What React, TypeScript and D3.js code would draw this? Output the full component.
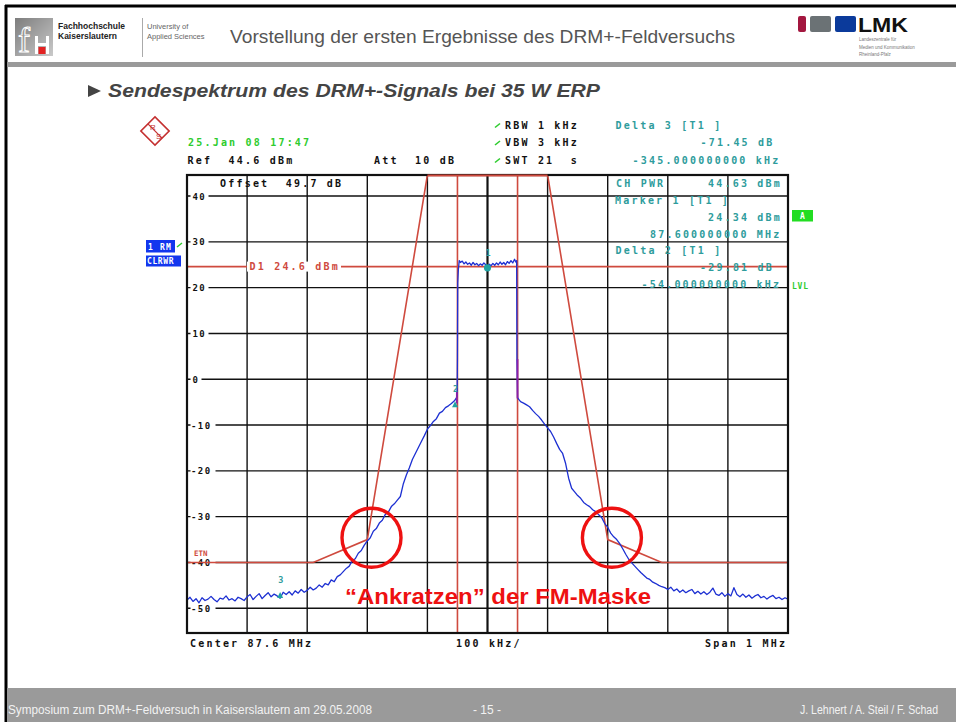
import React, { useEffect, useRef } from 'react';
import * as d3 from 'd3';

const W = 956;
const H = 722;

// level grid (dBm) and frequency divisions (kHz from centre)
const levelTicks = [40, 30, 20, 10, 0, -10, -20, -30, -40, -50];
const freqDivs = [-400, -300, -200, -100, 0, 100, 200, 300, 400];

// FM limit mask [kHz, dBm]
const maskPts: [number, number][] = [
  [-500, -40], [-290, -40], [-200, -35], [-100, 44.6],
  [100, 44.6], [200, -35], [290, -40], [500, -40],
];
const channelEdges = [-50, 50];
const displayLine = 24.6;

const skirtLow: [number, number][] = [
  [-500, -48.2], [-495, -47.6], [-490, -48.5], [-485, -47.9], [-480, -48.8], [-475, -47.7],
  [-470, -48.3], [-465, -48.0], [-460, -47.4], [-455, -48.1], [-450, -48.6], [-445, -47.8],
  [-440, -48.0], [-435, -47.3], [-430, -48.2], [-425, -47.9], [-420, -48.4], [-415, -47.6],
  [-410, -47.9], [-405, -48.3], [-400, -47.5], [-395, -47.0], [-390, -48.1], [-385, -47.4],
  [-380, -46.8], [-375, -47.9], [-370, -47.2], [-365, -46.6], [-360, -47.5], [-355, -46.9],
  [-350, -47.3], [-345, -47.8], [-340, -46.5], [-335, -47.0], [-330, -46.4], [-325, -47.1],
  [-320, -46.2], [-315, -46.7], [-310, -45.9], [-305, -46.5], [-300, -46.1], [-295, -45.4],
  [-290, -46.0], [-285, -45.6], [-280, -44.9], [-275, -45.4], [-270, -44.6], [-265, -44.9],
  [-260, -43.8], [-255, -44.2], [-250, -43.1], [-245, -42.7], [-240, -42.0], [-235, -41.3],
  [-230, -40.8], [-225, -39.6], [-220, -39.2], [-215, -38.0], [-210, -37.4], [-205, -36.2],
  [-200, -35.3], [-195, -34.6], [-190, -33.2], [-185, -32.6], [-180, -31.4], [-175, -30.8],
  [-170, -29.5], [-165, -29.0], [-160, -27.8], [-155, -27.2], [-150, -26.4], [-145, -25.6],
  [-140, -22.8], [-135, -20.9], [-130, -19.3], [-125, -17.5], [-120, -16.2], [-115, -14.9],
  [-110, -13.6], [-105, -12.3], [-100, -10.9], [-95, -10.1], [-90, -9.2], [-85, -8.6],
  [-80, -7.4], [-75, -7.0], [-70, -6.2], [-65, -5.8], [-60, -5.3], [-55, -4.7], [-51, -3.9],
];
const channel: [number, number][] = [
  [-50.5, -2.6], [-50, 4.8], [-49.5, 21.0], [-48.5, 23.9], [-47, 25.9], [-45, 25.5],
  [-42, 25.8], [-39, 25.2], [-36, 25.6], [-33, 25.1], [-30, 25.4], [-27, 24.9],
  [-24, 25.5], [-21, 25.0], [-18, 25.3], [-15, 24.8], [-12, 25.2], [-9, 24.9],
  [-6, 25.4], [-3, 25.0], [0, 24.6], [3, 25.1], [6, 24.8], [9, 25.3], [12, 24.9],
  [15, 25.4], [18, 25.0], [21, 25.6], [24, 25.1], [27, 25.5], [30, 25.0], [33, 25.7],
  [36, 25.3], [39, 25.9], [42, 25.4], [45, 26.2], [47, 25.6], [48.5, 25.9], [49, 4.4],
];
const skirtHigh: [number, number][] = [
  [50, -4.0], [52, -4.4], [55, -4.9], [60, -5.2], [65, -5.6], [70, -6.0], [75, -6.8],
  [80, -7.5], [85, -8.1], [90, -8.9], [95, -9.8], [100, -10.6], [105, -11.4], [110, -12.6],
  [115, -14.0], [120, -15.3], [125, -16.2], [130, -18.4], [135, -21.6], [140, -23.8],
  [145, -24.6], [150, -25.4], [155, -26.0], [160, -26.9], [165, -27.4], [170, -27.8],
  [175, -28.5], [180, -28.9], [185, -29.6], [190, -30.2], [195, -31.5], [200, -32.3],
  [205, -33.6], [210, -34.4], [215, -35.0], [220, -35.9], [225, -37.0], [230, -38.2],
  [235, -39.3], [240, -40.1], [245, -40.8], [250, -41.5], [255, -42.2], [260, -42.8],
  [265, -43.4], [270, -43.7], [275, -44.3], [280, -44.6], [285, -45.0], [290, -45.3],
  [295, -45.5], [300, -45.9], [305, -45.4], [310, -46.2], [315, -45.8], [320, -46.5],
  [325, -46.0], [330, -46.6], [335, -46.2], [340, -45.9], [345, -46.8], [350, -46.3],
  [355, -46.9], [360, -46.4], [365, -47.0], [370, -46.5], [375, -45.6], [380, -46.9],
  [385, -47.2], [390, -46.6], [395, -47.4], [400, -46.8], [405, -47.3], [410, -45.5],
  [415, -47.0], [420, -47.5], [425, -46.9], [430, -47.6], [435, -47.1], [440, -47.8],
  [445, -47.3], [450, -47.0], [455, -47.7], [460, -47.4], [465, -48.0], [470, -47.5],
  [475, -47.2], [480, -47.9], [485, -47.6], [490, -48.1], [495, -47.7], [500, -48.0],
];
// short purple pieces at the channel edges
const edgeSegs: [number, number][][] = [
  [[-51, -2.6], [-51, -5.3]],
  [[50, 4.4], [50, -4.2]],
];

const markers = [
  { n: '1', f: 0, db: 24.34 },
  { n: '2', f: -54, db: -5.47 },
  { n: '3', f: -345, db: -47.11 },
];

// circled spots on the mask (kHz, dBm)
const hotSpots: [number, number][] = [[-193, -34.6], [207, -34.6]];

export default function App() {
  const ref = useRef<SVGSVGElement>(null);

  useEffect(() => {
    const svg = d3.select(ref.current);
    svg.selectAll('*').remove();

    const MONO = '"DejaVu Sans Mono", monospace';
    const SANS = '"Liberation Sans", Arial, sans-serif';
    const NARROW = '"Liberation Sans Narrow", "Liberation Sans", Arial, sans-serif';
    const TEAL = '#2e9c9c';
    const GREEN = '#2ecc2e';
    const RED = '#cf4a3e';

    const x = d3.scaleLinear().domain([-500, 500]).range([187, 788]);
    const y = d3.scaleLinear().domain([-55.4, 44.6]).range([633, 175]);

    const mono = (txt: string, px: number, py: number, color: string, size = 10, ls = 2.2) =>
      svg
        .append('text')
        .attr('x', px)
        .attr('y', py)
        .attr('fill', color)
        .attr('font-family', MONO)
        .attr('font-size', size)
        .attr('font-weight', 'bold')
        .attr('letter-spacing', ls)
        .style('white-space', 'pre')
        .text(txt);

    svg.append('rect').attr('width', W).attr('height', H).attr('fill', '#fff');

    // ---- slide frame, header and footer
    svg.append('line').attr('x1', 5).attr('x2', W).attr('y1', 6).attr('y2', 6)
      .attr('stroke', '#000').attr('stroke-width', 3);
    svg.append('line').attr('x1', 6).attr('x2', 6).attr('y1', 5).attr('y2', H)
      .attr('stroke', '#000').attr('stroke-width', 3);
    svg.append('rect').attr('x', 7).attr('y', 62).attr('width', W).attr('height', 5).attr('fill', '#9a9a9a');
    svg.append('rect').attr('x', 7).attr('y', 688).attr('width', W).attr('height', 34).attr('fill', '#9a9a9a');

    const defs = svg.append('defs');
    const grad = defs.append('linearGradient').attr('id', 'fhGrad').attr('x1', 0).attr('x2', 1).attr('y1', 0).attr('y2', 1);
    grad.append('stop').attr('offset', 0).attr('stop-color', '#7d7d7d');
    grad.append('stop').attr('offset', 1).attr('stop-color', '#c9c9c9');
    defs.append('clipPath').attr('id', 'plotClip')
      .append('rect').attr('x', 187).attr('y', 175).attr('width', 601).attr('height', 458);

    // fh logo
    svg.append('rect').attr('x', 15).attr('y', 18).attr('width', 38).attr('height', 38).attr('fill', 'url(#fhGrad)');
    svg.append('text').attr('x', 18).attr('y', 52).attr('fill', 'none').attr('stroke', '#fff').attr('stroke-width', 1)
      .attr('font-family', '"Liberation Serif", serif').attr('font-size', 36).text('f');
    svg.append('rect').attr('x', 35).attr('y', 36).attr('width', 3).attr('height', 18).attr('fill', '#fff');
    svg.append('rect').attr('x', 46).attr('y', 36).attr('width', 3).attr('height', 18).attr('fill', '#fff');
    svg.append('rect').attr('x', 35).attr('y', 43).attr('width', 14).attr('height', 3).attr('fill', '#fff');
    svg.append('rect').attr('x', 38.5).attr('y', 47).attr('width', 7).attr('height', 7).attr('fill', '#e32222');
    svg.append('text').attr('x', 58).attr('y', 29).attr('font-family', SANS).attr('font-size', 8.5)
      .attr('font-weight', 'bold').attr('fill', '#222').text('Fachhochschule');
    svg.append('text').attr('x', 58).attr('y', 39).attr('font-family', SANS).attr('font-size', 8.5)
      .attr('font-weight', 'bold').attr('fill', '#222').text('Kaiserslautern');
    svg.append('line').attr('x1', 142.5).attr('x2', 142.5).attr('y1', 18).attr('y2', 57).attr('stroke', '#aaa');
    svg.append('text').attr('x', 147).attr('y', 29).attr('font-family', SANS).attr('font-size', 7.5)
      .attr('fill', '#666').text('University of');
    svg.append('text').attr('x', 147).attr('y', 39).attr('font-family', SANS).attr('font-size', 7.5)
      .attr('fill', '#666').text('Applied Sciences');
    svg.append('text').attr('x', 230).attr('y', 43).attr('font-family', NARROW).attr('font-size', 19)
      .attr('fill', '#555').attr('textLength', 505).attr('lengthAdjust', 'spacingAndGlyphs')
      .text('Vorstellung der ersten Ergebnisse des DRM+-Feldversuchs');

    // LMK logo
    svg.append('rect').attr('x', 798).attr('y', 16).attr('width', 8).attr('height', 16).attr('rx', 2).attr('fill', '#a3173f');
    svg.append('rect').attr('x', 810).attr('y', 16).attr('width', 21).attr('height', 16).attr('rx', 2).attr('fill', '#6b7275');
    svg.append('rect').attr('x', 835).attr('y', 16).attr('width', 21).attr('height', 16).attr('rx', 2).attr('fill', '#0b3a9b');
    svg.append('text').attr('x', 858).attr('y', 32).attr('font-family', SANS).attr('font-size', 21)
      .attr('font-weight', 'bold').attr('fill', '#111').attr('textLength', 50).attr('lengthAdjust', 'spacingAndGlyphs').text('LMK');
    ['Landeszentrale für', 'Medien und Kommunikation', 'Rheinland-Pfalz'].forEach((t, i) => {
      svg.append('text').attr('x', 859).attr('y', 41 + i * 7.5).attr('font-family', SANS).attr('font-size', 4.5)
        .attr('fill', '#777').text(t);
    });

    // subtitle
    svg.append('path').attr('d', 'M88,85 L101,91 L88,97 Z').attr('fill', '#444');
    svg.append('text').attr('x', 108).attr('y', 97).attr('font-family', SANS).attr('font-size', 18)
      .attr('font-weight', 'bold').attr('font-style', 'italic').attr('fill', '#444')
      .attr('textLength', 492).attr('lengthAdjust', 'spacingAndGlyphs')
      .text('Sendespektrum des DRM+-Signals bei 35 W ERP');

    // footer
    svg.append('text').attr('x', 8).attr('y', 714).attr('font-family', NARROW).attr('font-size', 12)
      .attr('fill', '#f2f2f2').attr('textLength', 364).attr('lengthAdjust', 'spacingAndGlyphs')
      .text('Symposium zum DRM+-Feldversuch in Kaiserslautern am 29.05.2008');
    svg.append('text').attr('x', 473).attr('y', 714).attr('font-family', NARROW).attr('font-size', 12)
      .attr('fill', '#f2f2f2').text('- 15 -');
    svg.append('text').attr('x', 800).attr('y', 714).attr('font-family', NARROW).attr('font-size', 12)
      .attr('fill', '#f2f2f2').attr('textLength', 138).attr('lengthAdjust', 'spacingAndGlyphs')
      .text('J. Lehnert / A. Steil / F. Schad');

    // ---- analyzer header
    const rs = svg.append('g').attr('transform', 'translate(155,131) rotate(45)');
    rs.append('rect').attr('x', -10).attr('y', -10).attr('width', 20).attr('height', 20)
      .attr('fill', '#fff').attr('stroke', '#c43030').attr('stroke-width', 1.6);
    rs.append('line').attr('x1', -10).attr('x2', 10).attr('y1', 0).attr('y2', 0).attr('stroke', '#c43030').attr('stroke-width', 1.2);
    svg.append('text').attr('x', 150).attr('y', 130).attr('font-family', SANS).attr('font-size', 8)
      .attr('fill', '#c43030').text('R');
    svg.append('text').attr('x', 156).attr('y', 139).attr('font-family', SANS).attr('font-size', 8)
      .attr('fill', '#c43030').text('S');

    mono('25.Jan 08 17:47', 188, 146, GREEN);
    mono('Ref  44.6 dBm', 187.5, 163.5, '#111');
    mono('Att  10 dB', 374, 163.5, '#111');
    mono('RBW 1 kHz', 505, 128.5, '#111');
    mono('VBW 3 kHz', 505, 146, '#111');
    mono('SWT 21  s', 505, 163.5, '#111');
    [128.5, 146, 163.5].forEach((py) => {
      svg.append('line').attr('x1', 495).attr('x2', 500).attr('y1', py - 1).attr('y2', py - 5)
        .attr('stroke', GREEN).attr('stroke-width', 1.6);
    });
    mono('Delta 3 [T1 ]', 615.5, 128.5, TEAL);
    mono('-71.45 dB', 700.5, 146, TEAL);
    mono('-345.000000000 kHz', 632.5, 163.5, TEAL);

    // ---- side labels
    svg.append('rect').attr('x', 146).attr('y', 240).attr('width', 29).attr('height', 12.5).attr('fill', '#1236ee');
    mono('1 RM', 148, 249.5, '#fff', 8, 1.2);
    svg.append('line').attr('x1', 177).attr('x2', 182).attr('y1', 247).attr('y2', 243)
      .attr('stroke', GREEN).attr('stroke-width', 1.5);
    svg.append('rect').attr('x', 146).attr('y', 255.5).attr('width', 35).attr('height', 11).attr('fill', '#1236ee');
    mono('CLRWR', 147, 264, '#fff', 8, 0.6);
    svg.append('rect').attr('x', 792).attr('y', 210).attr('width', 21).attr('height', 11.5).attr('fill', '#22dd22');
    svg.append('text').attr('x', 802.5).attr('y', 219).attr('text-anchor', 'middle').attr('font-family', MONO)
      .attr('font-size', 8).attr('font-weight', 'bold').attr('fill', '#fff').text('A');
    mono('LVL', 792, 289, GREEN, 8, 0.8);

    // ---- grid
    const grid = svg.append('g');
    freqDivs.forEach((f) => {
      grid.append('line').attr('x1', x(f)).attr('x2', x(f)).attr('y1', 175).attr('y2', 633)
        .attr('stroke', '#111').attr('stroke-width', f === 0 ? 2.2 : 1.4);
    });
    levelTicks.forEach((t) => {
      grid.append('line').attr('x1', 187).attr('x2', 788).attr('y1', y(t)).attr('y2', y(t))
        .attr('stroke', '#111').attr('stroke-width', 1.4);
      const lbl = String(t);
      grid.append('rect').attr('x', 190.5).attr('y', y(t) - 5).attr('width', lbl.length * 7 + 4)
        .attr('height', 10).attr('fill', '#fff');
      grid.append('text').attr('x', t < 0 ? 191 : 192.5).attr('y', y(t) + 3.5).attr('font-family', MONO)
        .attr('font-size', 9).attr('font-weight', 'bold').attr('letter-spacing', 1.4).attr('fill', '#111').text(lbl);
    });

    // ---- red lines (display line, mask, channel edges)
    const red = svg.append('g').attr('clip-path', 'url(#plotClip)');
    red.append('line').attr('x1', 187).attr('x2', 788).attr('y1', y(displayLine)).attr('y2', y(displayLine))
      .attr('stroke', RED).attr('stroke-width', 1.6);
    red.append('rect').attr('x', 247).attr('y', y(displayLine) - 5).attr('width', 94).attr('height', 10).attr('fill', '#fff');
    mono('D1 24.6 dBm', 249.5, y(displayLine) + 3.5, RED);

    const line = d3.line<[number, number]>().x((d) => x(d[0])).y((d) => y(d[1]));
    red.append('path').attr('d', line(maskPts)).attr('fill', 'none').attr('stroke', RED).attr('stroke-width', 1.6);
    channelEdges.forEach((f) => {
      red.append('line').attr('x1', x(f)).attr('x2', x(f)).attr('y1', 175).attr('y2', 633)
        .attr('stroke', RED).attr('stroke-width', 1.6);
    });
    svg.append('text').attr('x', 194).attr('y', 556).attr('font-family', MONO).attr('font-size', 7.5)
      .attr('font-weight', 'bold').attr('fill', RED).text('ETN');

    // ---- trace
    const plot = svg.append('g').attr('clip-path', 'url(#plotClip)');
    const trace = [...skirtLow, ...channel, ...skirtHigh];
    plot.append('path').attr('d', line(trace)).attr('fill', 'none').attr('stroke', '#1d30d2')
      .attr('stroke-width', 1.3).attr('stroke-linejoin', 'round');
    edgeSegs.forEach((s) => {
      plot.append('path').attr('d', line(s)).attr('stroke', '#8a1fa8').attr('stroke-width', 1.8);
    });

    // markers
    markers.forEach((m) => {
      const mx = x(m.f);
      const my = y(m.db);
      if (m.n === '1') {
        plot.append('circle').attr('cx', mx).attr('cy', my).attr('r', 3.6).attr('fill', '#1fa3a3');
      } else {
        plot.append('path').attr('d', `M${mx - 3},${my + 3} L${mx + 3},${my + 3} L${mx},${my - 3} Z`).attr('fill', '#1fa3a3');
      }
      svg.append('text').attr('x', mx - 2).attr('y', my - 12).attr('font-family', MONO).attr('font-size', 8.5)
        .attr('font-weight', 'bold').attr('fill', TEAL).text(m.n);
    });

    // ---- in-plot readout
    mono('Offset  49.7 dB', 220, 187, '#111');
    mono('CH PWR', 616, 187, TEAL);
    mono('44.63 dBm', 708, 187, TEAL);
    mono('Marker 1 [T1 ]', 615, 203.5, TEAL);
    mono('24.34 dBm', 708, 221, TEAL);
    mono('87.600000000 MHz', 650, 237.5, TEAL);
    mono('Delta 2 [T1 ]', 615.5, 254, TEAL);
    mono('-29.81 dB', 700, 270.5, TEAL);
    mono('-54.000000000 kHz', 641.5, 288, TEAL);

    // frame
    svg.append('rect').attr('x', 187).attr('y', 175).attr('width', 601).attr('height', 458)
      .attr('fill', 'none').attr('stroke', '#111').attr('stroke-width', 2.2);
    // mask top sits on the frame
    svg.append('line').attr('x1', x(-100)).attr('x2', x(100)).attr('y1', 175.5).attr('y2', 175.5)
      .attr('stroke', RED).attr('stroke-width', 1.8);

    mono('Center 87.6 MHz', 190, 646.5, '#111');
    mono('100 kHz/', 456, 646.5, '#111');
    mono('Span 1 MHz', 705, 646.5, '#111');

    // ---- annotation
    hotSpots.forEach((p) => {
      svg.append('circle').attr('cx', x(p[0])).attr('cy', y(p[1])).attr('r', 29.5)
        .attr('fill', 'none').attr('stroke', '#ee1111').attr('stroke-width', 3.4);
    });
    svg.append('text').attr('x', 345).attr('y', 604).attr('font-family', SANS).attr('font-size', 22)
      .attr('font-weight', 'bold').attr('fill', '#ee1111').attr('textLength', 306).attr('lengthAdjust', 'spacingAndGlyphs')
      .text('\u201cAnkratzen\u201d der FM-Maske');
  }, []);

  return <svg ref={ref} width={W} height={H} style={{ position: 'absolute', left: 0, top: 0 }} />;
}
